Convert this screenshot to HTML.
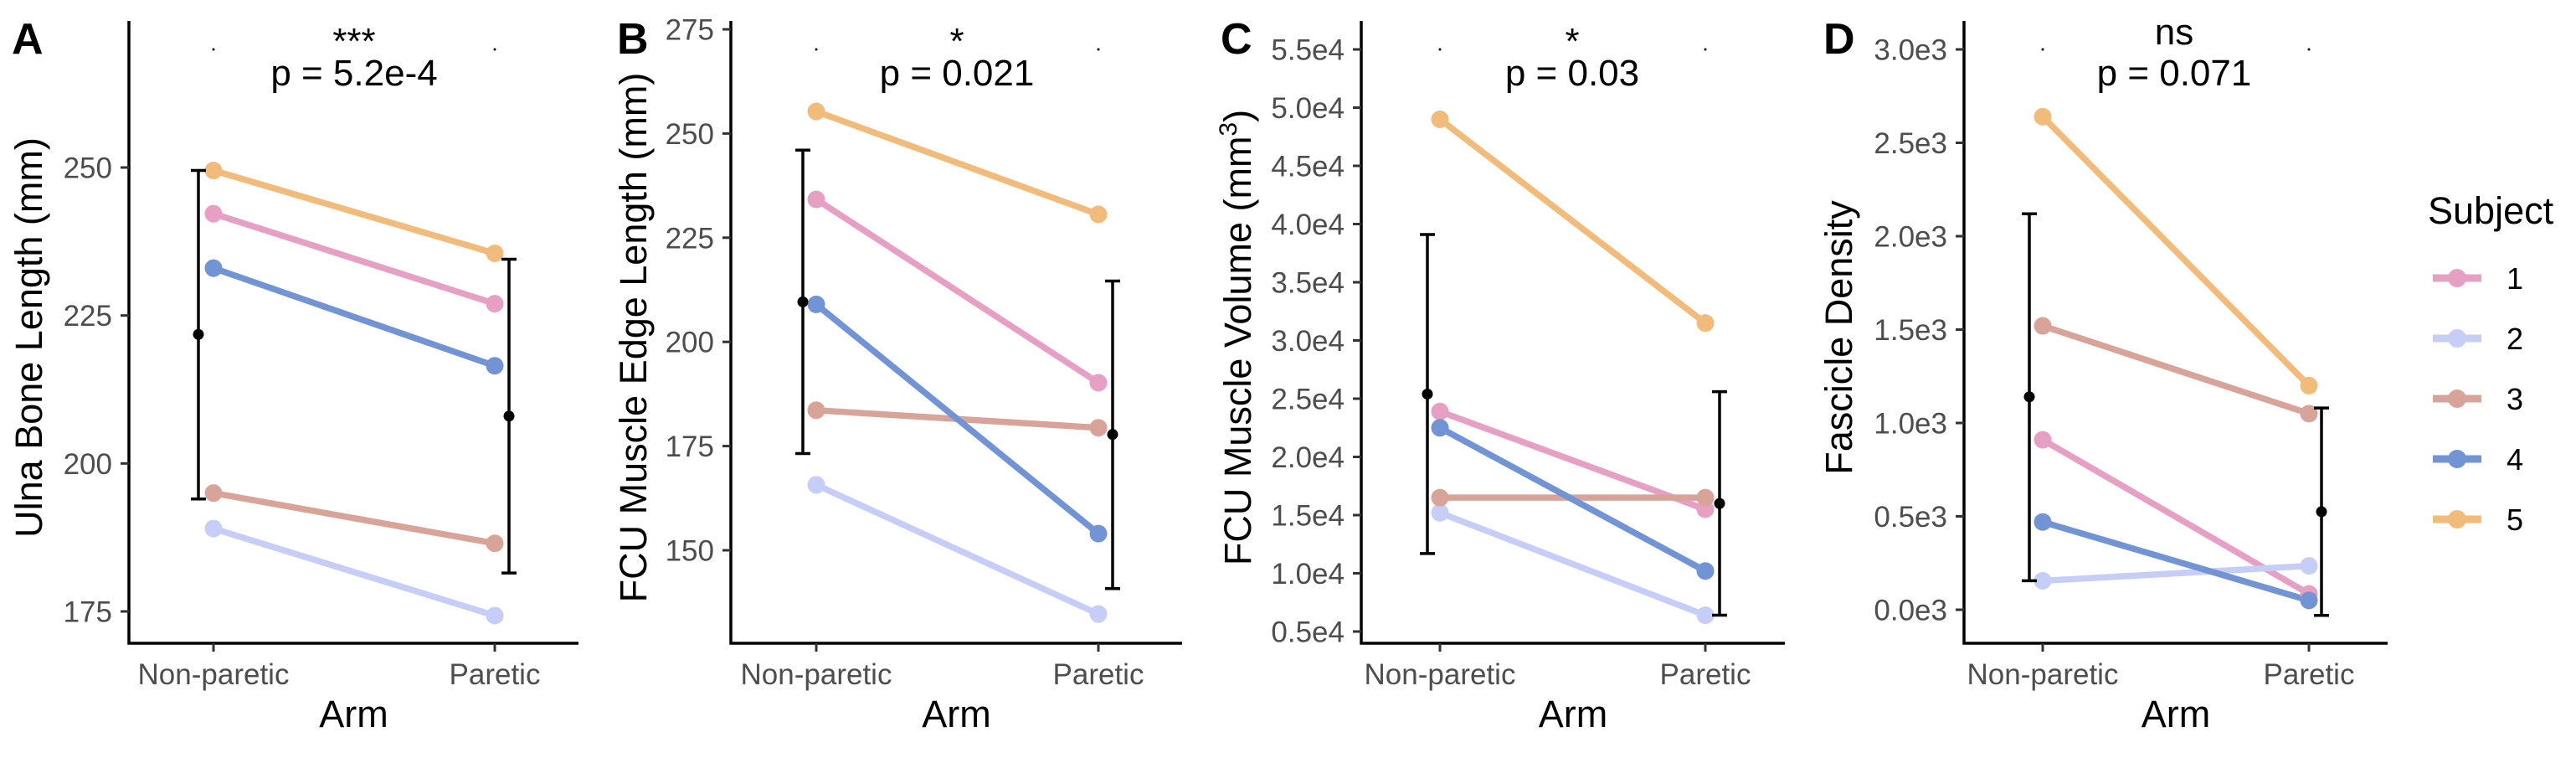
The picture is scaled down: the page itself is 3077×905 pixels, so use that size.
<!DOCTYPE html>
<html><head><meta charset="utf-8"><style>
html,body{margin:0;padding:0;background:#fff;}
svg{display:block;font-family:"Liberation Sans",Arial,sans-serif;}
</style></head><body>
<svg id="chart" width="3077" height="905" viewBox="0 0 3077 905" xmlns="http://www.w3.org/2000/svg"></svg>
<script>
const categories = ["Non-paretic", "Paretic"];
const subjects = ["1", "2", "3", "4", "5"];
const colors = ["#e6a0c4", "#c6cdf7", "#d8a499", "#7294d4", "#f1bb7b"];

const ulnaNP = [242.2, 189, 195, 233, 249.5];
const ulnaP = [227, 174.3, 186.5, 216.5, 235.5];
const ulnaErr = [[221.8, 194, 249.5], [208, 181.5, 234.5]];
const ulnaTicks = [175, 200, 225, 250];
const ulnaTickLabels = ["175", "200", "225", "250"];

const edgeNP = [234.2, 165.7, 183.6, 209, 255.3];
const edgeP = [190.2, 134.7, 179.4, 154, 230.6];
const edgeErr = [[209.6, 173.2, 246], [177.8, 140.8, 214.6]];
const edgeTicks = [150, 175, 200, 225, 250, 275];
const edgeTickLabels = ["150", "175", "200", "225", "250", "275"];

const volNP = [23900, 15200, 16500, 22500, 49000];
const volP = [15500, 6400, 16500, 10200, 31500];
const volErr = [[25400, 11700, 39100], [16000, 6400, 25600]];
const volTicks = [5000, 10000, 15000, 20000, 25000, 30000, 35000, 40000, 45000, 50000, 55000];
const volTickLabels = ["0.5e4", "1.0e4", "1.5e4", "2.0e4", "2.5e4", "3.0e4", "3.5e4", "4.0e4", "4.5e4", "5.0e4", "5.5e4"];

const densNP = [910, 155, 1520, 470, 2640];
const densP = [85, 235, 1050, 50, 1200];
const densErr = [[1140, 155, 2120], [525, -30, 1080]];
const densTicks = [0, 500, 1000, 1500, 2000, 2500, 3000];
const densTickLabels = ["0.0e3", "0.5e3", "1.0e3", "1.5e3", "2.0e3", "2.5e3", "3.0e3"];

const stars = ["***", "*", "*", "ns"];
const pvals = ["p = 5.2e-4", "p = 0.021", "p = 0.03", "p = 0.071"];

const NS = "http://www.w3.org/2000/svg";
const svg = document.getElementById('chart');
function mk(tag, attrs, parent, text) {
  const e = document.createElementNS(NS, tag);
  for (const k in attrs) e.setAttribute(k, attrs[k]);
  if (text !== undefined) e.textContent = text;
  (parent || svg).appendChild(e);
  return e;
}

const panels = [
  {letter:"A", ax:154, xend:691, xNP:255, xP:591, eNP:237, eP:608, v0:175, y0:730, v1:250, y1:200,
   np:ulnaNP, p:ulnaP, err:ulnaErr, ticks:ulnaTicks, labels:ulnaTickLabels, title:"Ulna Bone Length (mm)", tx:50, lx:14, tcx:423},
  {letter:"B", ax:873, xend:1412, xNP:975, xP:1312, eNP:959, eP:1329, v0:150, y0:657, v1:275, y1:35,
   np:edgeNP, p:edgeP, err:edgeErr, ticks:edgeTicks, labels:edgeTickLabels, title:"FCU Muscle Edge Length (mm)", tx:772, lx:737, tcx:1143},
  {letter:"C", ax:1626, xend:2132, xNP:1720, xP:2037, eNP:1705, eP:2054, v0:5000, y0:754, v1:55000, y1:59,
   np:volNP, p:volP, err:volErr, ticks:volTicks, labels:volTickLabels, title:"FCU Muscle Volume (mm", sup:true, tx:1494, lx:1458, tcx:1878},
  {letter:"D", ax:2346, xend:2852, xNP:2440, xP:2758, eNP:2424, eP:2773, v0:0, y0:728, v1:3000, y1:59,
   np:densNP, p:densP, err:densErr, ticks:densTicks, labels:densTickLabels, title:"Fascicle Density", tx:2212, lx:2178, tcx:2597}
];

panels.forEach((P, pi) => {
  const g = mk('g', {}, svg);
  
  
  const yS = v => P.y0 + (v - P.v0) * (P.y1 - P.y0) / (P.v1 - P.v0);
  const xs = [P.xNP, P.xP];
  const ex = [P.eNP, P.eP];
  const top = 25, bottom = 768;

  const lt = mk('text', {x:P.lx, y:64, 'font-size':52, 'font-weight':'bold', fill:'#000'}, g, P.letter);
  
  

  const ya = mk('line', {x1:P.ax, y1:top, x2:P.ax, y2:bottom+1.5, stroke:'#000', 'stroke-width':3.5}, g);
  
  
  const xa = mk('line', {x1:P.ax-1.5, y1:bottom, x2:P.xend, y2:bottom, stroke:'#000', 'stroke-width':3.5}, g);
  
  

  P.ticks.forEach((t, i) => {
    const y = yS(t);
    const tk = mk('line', {x1:P.ax-10, y1:y, x2:P.ax, y2:y, stroke:'#333', 'stroke-width':3}, g);
    
    
    const tl = mk('text', {x:P.ax-20, y:y+12.5, 'font-size':35, fill:'#4d4d4d', 'text-anchor':'end'}, g, P.labels[i]);
    
    
  });
  categories.forEach((c, i) => {
    const tk = mk('line', {x1:xs[i], y1:bottom, x2:xs[i], y2:bottom+10, stroke:'#333', 'stroke-width':3}, g);
    
    
    const tl = mk('text', {x:xs[i], y:817, 'font-size':35, fill:'#4d4d4d', 'text-anchor':'middle'}, g, c);
    
    
  });
  const xt = mk('text', {x:(P.ax+P.xend)/2, y:868, 'font-size':45, fill:'#000', 'text-anchor':'middle'}, g, "Arm");
  
  
  const yt = mk('text', {x:0, y:0, 'font-size':45, fill:'#000', 'text-anchor':'middle', transform:`translate(${P.tx},403) rotate(-90)`}, g, P.title);
  
  
  if (P.sup) {
    mk('tspan', {'font-size':30, dy:-17}, yt, "3");
    mk('tspan', {dy:17}, yt, ")");
  }

  xs.forEach(x => {
    const d = mk('circle', {cx:x, cy:59, r:1.5, fill:'#000'}, g);
    
    
  });
  const st = mk('text', {x:P.tcx, y:pi===3?53:64, 'font-size':44, fill:'#000', 'text-anchor':'middle'}, g, stars[pi]);
  
  
  const pv = mk('text', {x:P.tcx, y:102, 'font-size':44, fill:'#000', 'text-anchor':'middle'}, g, pvals[pi]);
  
  

  subjects.forEach((s, i) => {
    const ln = mk('line', {x1:xs[0], y1:yS(P.np[i]), x2:xs[1], y2:yS(P.p[i]), stroke:colors[i], 'stroke-width':7.5}, g);
    
    
  });
  subjects.forEach((s, i) => {
    [P.np[i], P.p[i]].forEach((v, j) => {
      const c = mk('circle', {cx:xs[j], cy:yS(v), r:10.5, fill:colors[i]}, g);
      
      
    });
  });

  P.err.forEach((e, j) => {
    const x = ex[j];
    const eb = mk('g', {}, g);
    
    
    mk('line', {x1:x, y1:yS(e[1]), x2:x, y2:yS(e[2]), stroke:'#000', 'stroke-width':3.5}, eb);
    mk('line', {x1:x-9, y1:yS(e[1]), x2:x+9, y2:yS(e[1]), stroke:'#000', 'stroke-width':3.5}, eb);
    mk('line', {x1:x-9, y1:yS(e[2]), x2:x+9, y2:yS(e[2]), stroke:'#000', 'stroke-width':3.5}, eb);
    const m = mk('circle', {cx:x, cy:yS(e[0]), r:6.5, fill:'#000'}, eb);
    
    
  });
});

const lg = mk('g', {}, svg);


const ltit = mk('text', {x:2900, y:267, 'font-size':45, fill:'#000'}, lg, "Subject");


subjects.forEach((s, i) => {
  const y = 332 + i * 72;
  const e = mk('g', {}, lg);
  
  
  mk('line', {x1:2906, y1:y, x2:2964, y2:y, stroke:colors[i], 'stroke-width':9}, e);
  mk('circle', {cx:2935, cy:y, r:11, fill:colors[i]}, e);
  mk('text', {x:2994, y:y+13, 'font-size':36, fill:'#000'}, e, s);
});
</script>
</body></html>
